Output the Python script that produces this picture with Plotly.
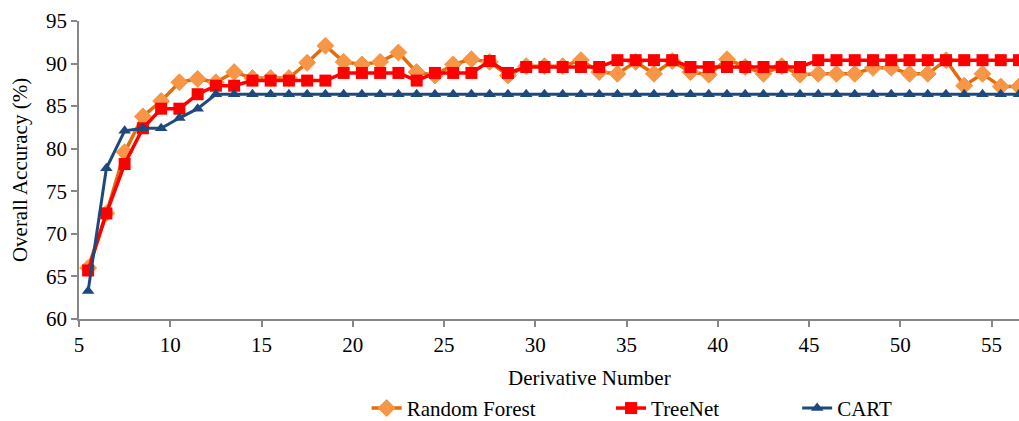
import plotly.graph_objects as go

derivative = list(range(5, 57))

random_forest = [66.0, 72.4, 79.6, 83.8, 85.6, 87.8, 88.2, 87.8, 89.0, 88.3,
                 88.3, 88.3, 90.1, 92.1, 90.2, 89.9, 90.2, 91.3, 89.0, 88.6,
                 89.9, 90.5, 90.2, 88.6, 89.7, 89.7, 89.7, 90.4, 89.0, 88.8,
                 90.2, 88.8, 90.3, 89.0, 88.7, 90.5, 89.6, 88.8, 89.7, 88.7,
                 88.8, 88.8, 88.8, 89.5, 89.5, 88.8, 88.8, 90.4, 87.4, 88.8,
                 87.3, 87.3]

treenet = [65.7, 72.4, 78.2, 82.4, 84.7, 84.7, 86.4, 87.4, 87.4, 88.0,
           88.0, 88.0, 88.0, 88.0, 88.9, 88.9, 88.9, 88.9, 88.0, 88.9,
           88.9, 88.9, 90.3, 88.9, 89.6, 89.6, 89.6, 89.6, 89.6, 90.4,
           90.4, 90.4, 90.4, 89.6, 89.6, 89.6, 89.6, 89.6, 89.6, 89.6,
           90.4, 90.4, 90.4, 90.4, 90.4, 90.4, 90.4, 90.4, 90.4, 90.4,
           90.4, 90.4]

cart = [63.3, 77.7, 82.1, 82.4, 82.4, 83.6, 84.7] + [86.4] * 45

x_tick_labels = [5, 10, 15, 20, 25, 30, 35, 40, 45, 50, 55]
y_tick_labels = [60, 65, 70, 75, 80, 85, 90, 95]

FONT = "Liberation Serif, Times New Roman, serif"
AXIS_GREY = "#868686"

fig = go.Figure()
fig.add_trace(go.Scatter(
    x=derivative, y=random_forest, mode="lines+markers", name="Random Forest",
    line=dict(color="#E46C0A", width=3.5),
    marker=dict(symbol="diamond", size=13, color="#F79646",
                line=dict(color="#F79646", width=1)),
    legend="legend", showlegend=True))
fig.add_trace(go.Scatter(
    x=derivative, y=treenet, mode="lines+markers", name="TreeNet",
    line=dict(color="#FF0000", width=3.5),
    marker=dict(symbol="square", size=12, color="#FF0000"),
    legend="legend2", showlegend=True))
fig.add_trace(go.Scatter(
    x=derivative, y=cart, mode="lines+markers", name="CART",
    line=dict(color="#1F497D", width=3),
    marker=dict(symbol="triangle-up", size=11, color="#1F497D"),
    legend="legend3", showlegend=True))

legend_common = dict(orientation="h", yanchor="middle", y=-0.30, xanchor="left",
                     font=dict(family=FONT, size=21, color="#000000"),
                     bgcolor="rgba(0,0,0,0)", itemwidth=30, visible=True)

fig.update_layout(
    width=1019, height=421,
    showlegend=True,
    margin=dict(l=79, r=0, t=21, b=102, autoexpand=False),
    paper_bgcolor="white", plot_bgcolor="white",
    font=dict(family=FONT, size=21, color="#000000"),
    legend=dict(legend_common, x=0.306),
    legend2=dict(legend_common, x=0.566),
    legend3=dict(legend_common, x=0.764),
    xaxis=dict(
        range=[4.5, 56.0], showgrid=False, zeroline=False,
        showline=True, linecolor=AXIS_GREY, linewidth=1.5,
        ticks="outside", ticklen=6, tickcolor=AXIS_GREY, tickwidth=1.5,
        tickvals=[v - 0.5 for v in x_tick_labels],
        ticktext=[str(v) for v in x_tick_labels],
        tickfont=dict(family=FONT, size=21),
        automargin=False),
    yaxis=dict(
        range=[60, 95], showgrid=False, zeroline=False,
        showline=True, linecolor=AXIS_GREY, linewidth=1.5,
        ticks="outside", ticklen=6, tickcolor=AXIS_GREY, tickwidth=1.5,
        tickvals=y_tick_labels, ticktext=[str(v) for v in y_tick_labels],
        tickfont=dict(family=FONT, size=21),
        title=dict(text="Overall Accuracy (%)", font=dict(family=FONT, size=21),
                   standoff=13),
        automargin=False),
    annotations=[dict(text="Derivative Number", xref="paper", yref="paper",
                      x=0.5436, y=-0.199, xanchor="center", yanchor="middle",
                      showarrow=False, font=dict(family=FONT, size=21))],
)

fig.write_html("out.html",
               config={"displayModeBar": False},
               post_script="document.body.style.margin='0';"
                           "document.body.style.overflow='hidden';")
